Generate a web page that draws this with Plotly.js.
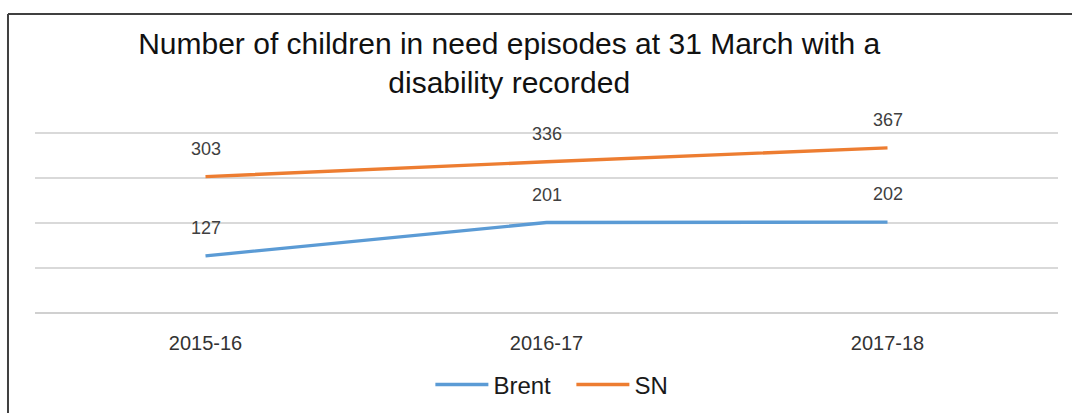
<!DOCTYPE html>
<html>
<head>
<meta charset="utf-8">
<script src="https://cdn.plot.ly/plotly-3.0.1.min.js"></script>
<style>
html,body{margin:0;padding:0;background:#fff;}
#chart{width:1072px;height:413px;}
</style>
</head>
<body>
<div id="chart"></div>
<script>
const categories = ["2015-16", "2016-17", "2017-18"];
const brent = [127, 201, 202];
const sn = [303, 336, 367];
const seriesNames = ["Brent", "SN"];
const titleText = "Number of children in need episodes at 31 March with a<br>disability recorded";

const FONT = "Liberation Sans, Arial, sans-serif";

const traces = [
  {x: categories, y: brent, name: seriesNames[0], type: "scatter", mode: "lines",
   line: {color: "#5B9BD5", width: 3.4}},
  {x: categories, y: sn, name: seriesNames[1], type: "scatter", mode: "lines",
   line: {color: "#ED7D31", width: 3.4}}
];

const annotations = [];
[brent, sn].forEach(function(vals){
  vals.forEach(function(v, i){
    annotations.push({x: categories[i], y: v, xref: "x", yref: "y",
      text: String(v), showarrow: false, yshift: 28,
      font: {family: FONT, size: 18, color: "#404040"}});
  });
});

const layout = {
  width: 1072, height: 413,
  margin: {l: 35, r: 14, t: 131, b: 100, autoexpand: false},
  paper_bgcolor: "#ffffff", plot_bgcolor: "#ffffff",
  title: {text: titleText, x: 0.475, xanchor: "center", xref: "container", y: 0.87, yanchor: "middle", yref: "container",
    font: {family: FONT, size: 30, color: "#111111"}},
  xaxis: {type: "category", range: [-0.5, 2.5], showgrid: false, zeroline: false, showline: false,
    ticks: "outside", ticklen: 12, tickcolor: "rgba(0,0,0,0)", automargin: false,
    tickfont: {family: FONT, size: 20, color: "#333333"}},
  yaxis: {range: [0, 404.4], dtick: 100, showticklabels: false, showgrid: true, gridcolor: "#d9d9d9", gridwidth: 1.2,
    zeroline: true, zerolinecolor: "#d0d0d0", zerolinewidth: 1.2, showline: false, ticks: "", automargin: false},
  showlegend: true,
  legend: {orientation: "h", x: 0.533, xref: "container", xanchor: "center", y: 0.068, yref: "container", yanchor: "middle",
    itemwidth: 53, entrywidth: 73,
    font: {family: FONT, size: 24, color: "#1a1a1a"}, bgcolor: "rgba(0,0,0,0)"},
  annotations: annotations,
  shapes: [
    {type: "line", xref: "paper", yref: "paper", x0: -0.0264, x1: -0.0264, y0: 1.643, y1: -0.6,
     line: {color: "#404040", width: 2}},
    {type: "line", xref: "paper", yref: "paper", x0: -0.0264, x1: 1.02, y0: 1.643, y1: 1.643,
     line: {color: "#404040", width: 2}}
  ]
};

Plotly.newPlot("chart", traces, layout, {displayModeBar: false, staticPlot: true}).then(function(gd){
  // lengthen the legend line samples to match the reference style
  gd.querySelectorAll(".legend .legendlines path").forEach(function(p){
    p.setAttribute("d", "M5,0h53");
  });
});
</script>
</body>
</html>
